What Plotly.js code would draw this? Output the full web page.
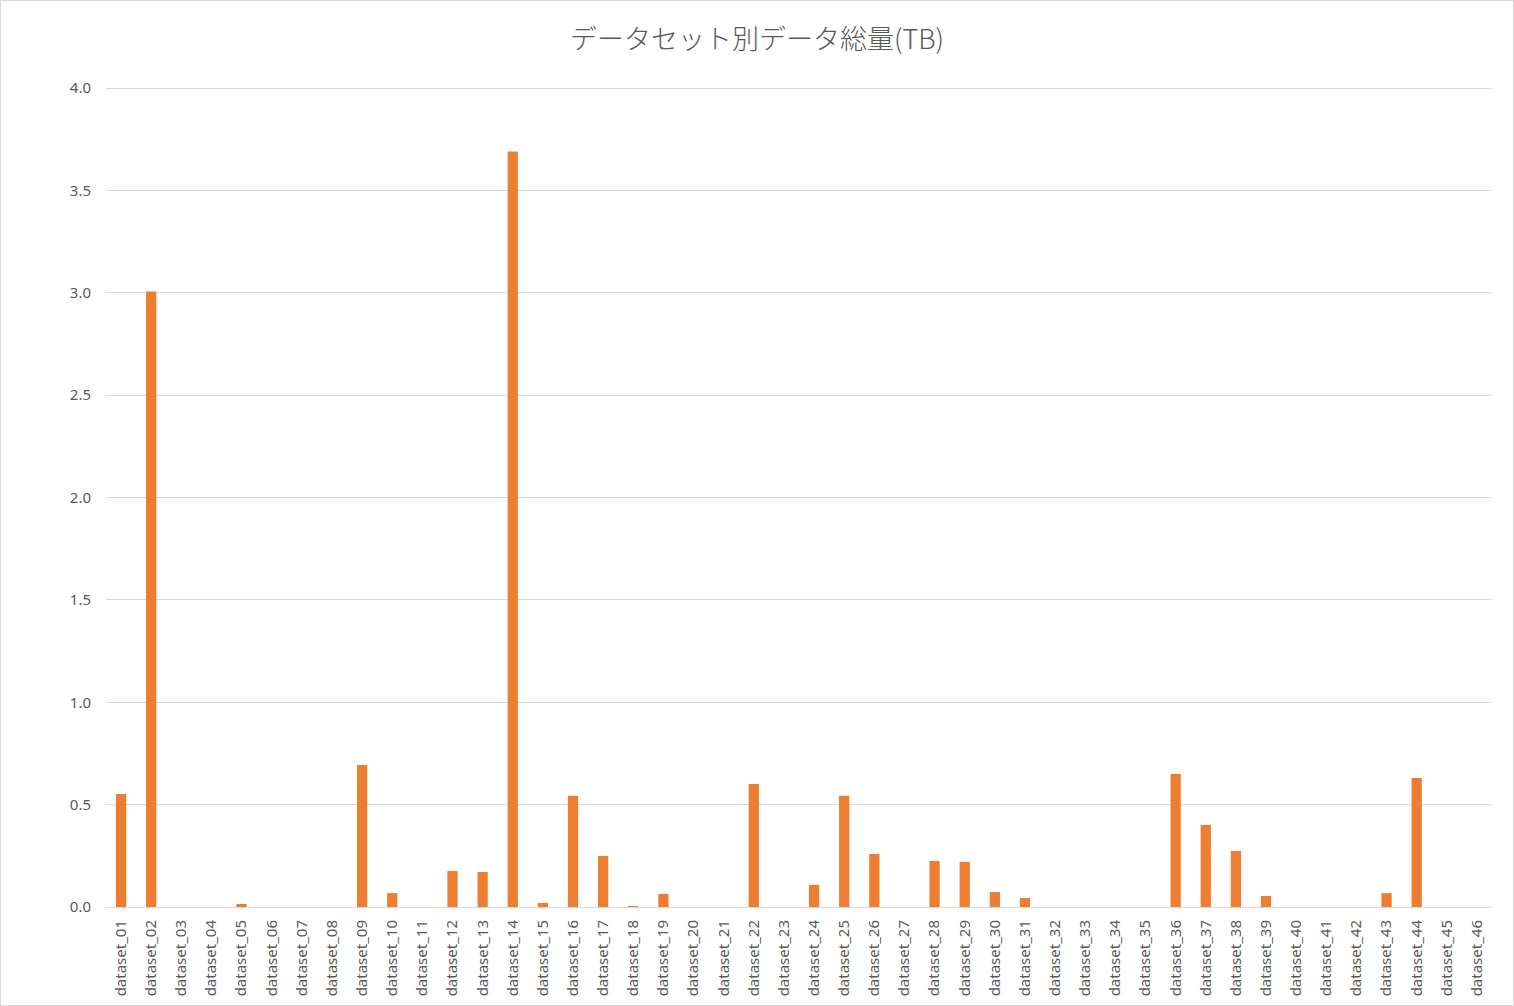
<!DOCTYPE html>
<html>
<head>
<meta charset="utf-8">
<script src="https://cdn.plot.ly/plotly-3.0.1.min.js"></script>
<style>
html,body{margin:0;padding:0;background:#fff;}
#chart{width:1514px;height:1006px;box-sizing:border-box;border:1px solid #d9d9d9;}
</style>
</head>
<body>
<div id="chart"></div>
<script>
var categories = [];
for (var i = 1; i <= 46; i++) { categories.push('dataset_' + (i < 10 ? '0' + i : '' + i)); }
var totalTB = [
  0.552, 3.006, 0, 0, 0.015, 0, 0, 0, 0.694, 0.068,
  0, 0.176, 0.171, 3.69, 0.020, 0.543, 0.249, 0.005, 0.064, 0,
  0, 0.601, 0, 0.108, 0.543, 0.259, 0, 0.225, 0.220, 0.073,
  0.044, 0, 0, 0, 0, 0.650, 0.401, 0.274, 0.054, 0,
  0, 0, 0.068, 0.630, 0, 0
];
var yTicks = [0, 0.5, 1, 1.5, 2, 2.5, 3, 3.5, 4];
var yTickText = ['0.0', '0.5', '1.0', '1.5', '2.0', '2.5', '3.0', '3.5', '4.0'];
var titleText = 'データセット別データ総量(TB)';

var trace = {
  type: 'bar',
  x: categories,
  y: totalTB,
  marker: {color: '#ed7d31'},
  hoverinfo: 'x+y'
};
var layout = {
  width: 1512, height: 1004,
  margin: {l: 105, r: 21, t: 83, b: 98},
  paper_bgcolor: '#ffffff',
  plot_bgcolor: '#ffffff',
  bargap: 0.66,
  showlegend: false,
  font: {family: '"Noto Sans", "Noto Sans CJK JP", sans-serif', color: '#595959', size: 13},
  title: {
    text: titleText,
    font: {family: '"Noto Sans CJK JP", sans-serif', size: 27, color: '#595959', weight: 300},
    x: 0.5, xanchor: 'center', y: 0.962, yanchor: 'middle'
  },
  xaxis: {
    type: 'category',
    tickangle: -90,
    tickfont: {size: 15, color: '#595959'},
    showgrid: false,
    showline: true,
    linecolor: '#d9d9d9',
    linewidth: 1,
    ticks: '',
    ticklen: 0,
    ticklabelstandoff: 6,
    automargin: false
  },
  yaxis: {
    range: [0, 4.02],
    tickvals: yTicks,
    ticktext: yTickText,
    tickfont: {size: 15, color: '#595959'},
    showgrid: true,
    gridcolor: '#d9d9d9',
    gridwidth: 1,
    zeroline: false,
    showline: false,
    ticks: '',
    ticklen: 0,
    ticklabelstandoff: 14,
    automargin: false
  }
};
Plotly.newPlot('chart', [trace], layout, {displayModeBar: false, staticPlot: true});
</script>
</body>
</html>
